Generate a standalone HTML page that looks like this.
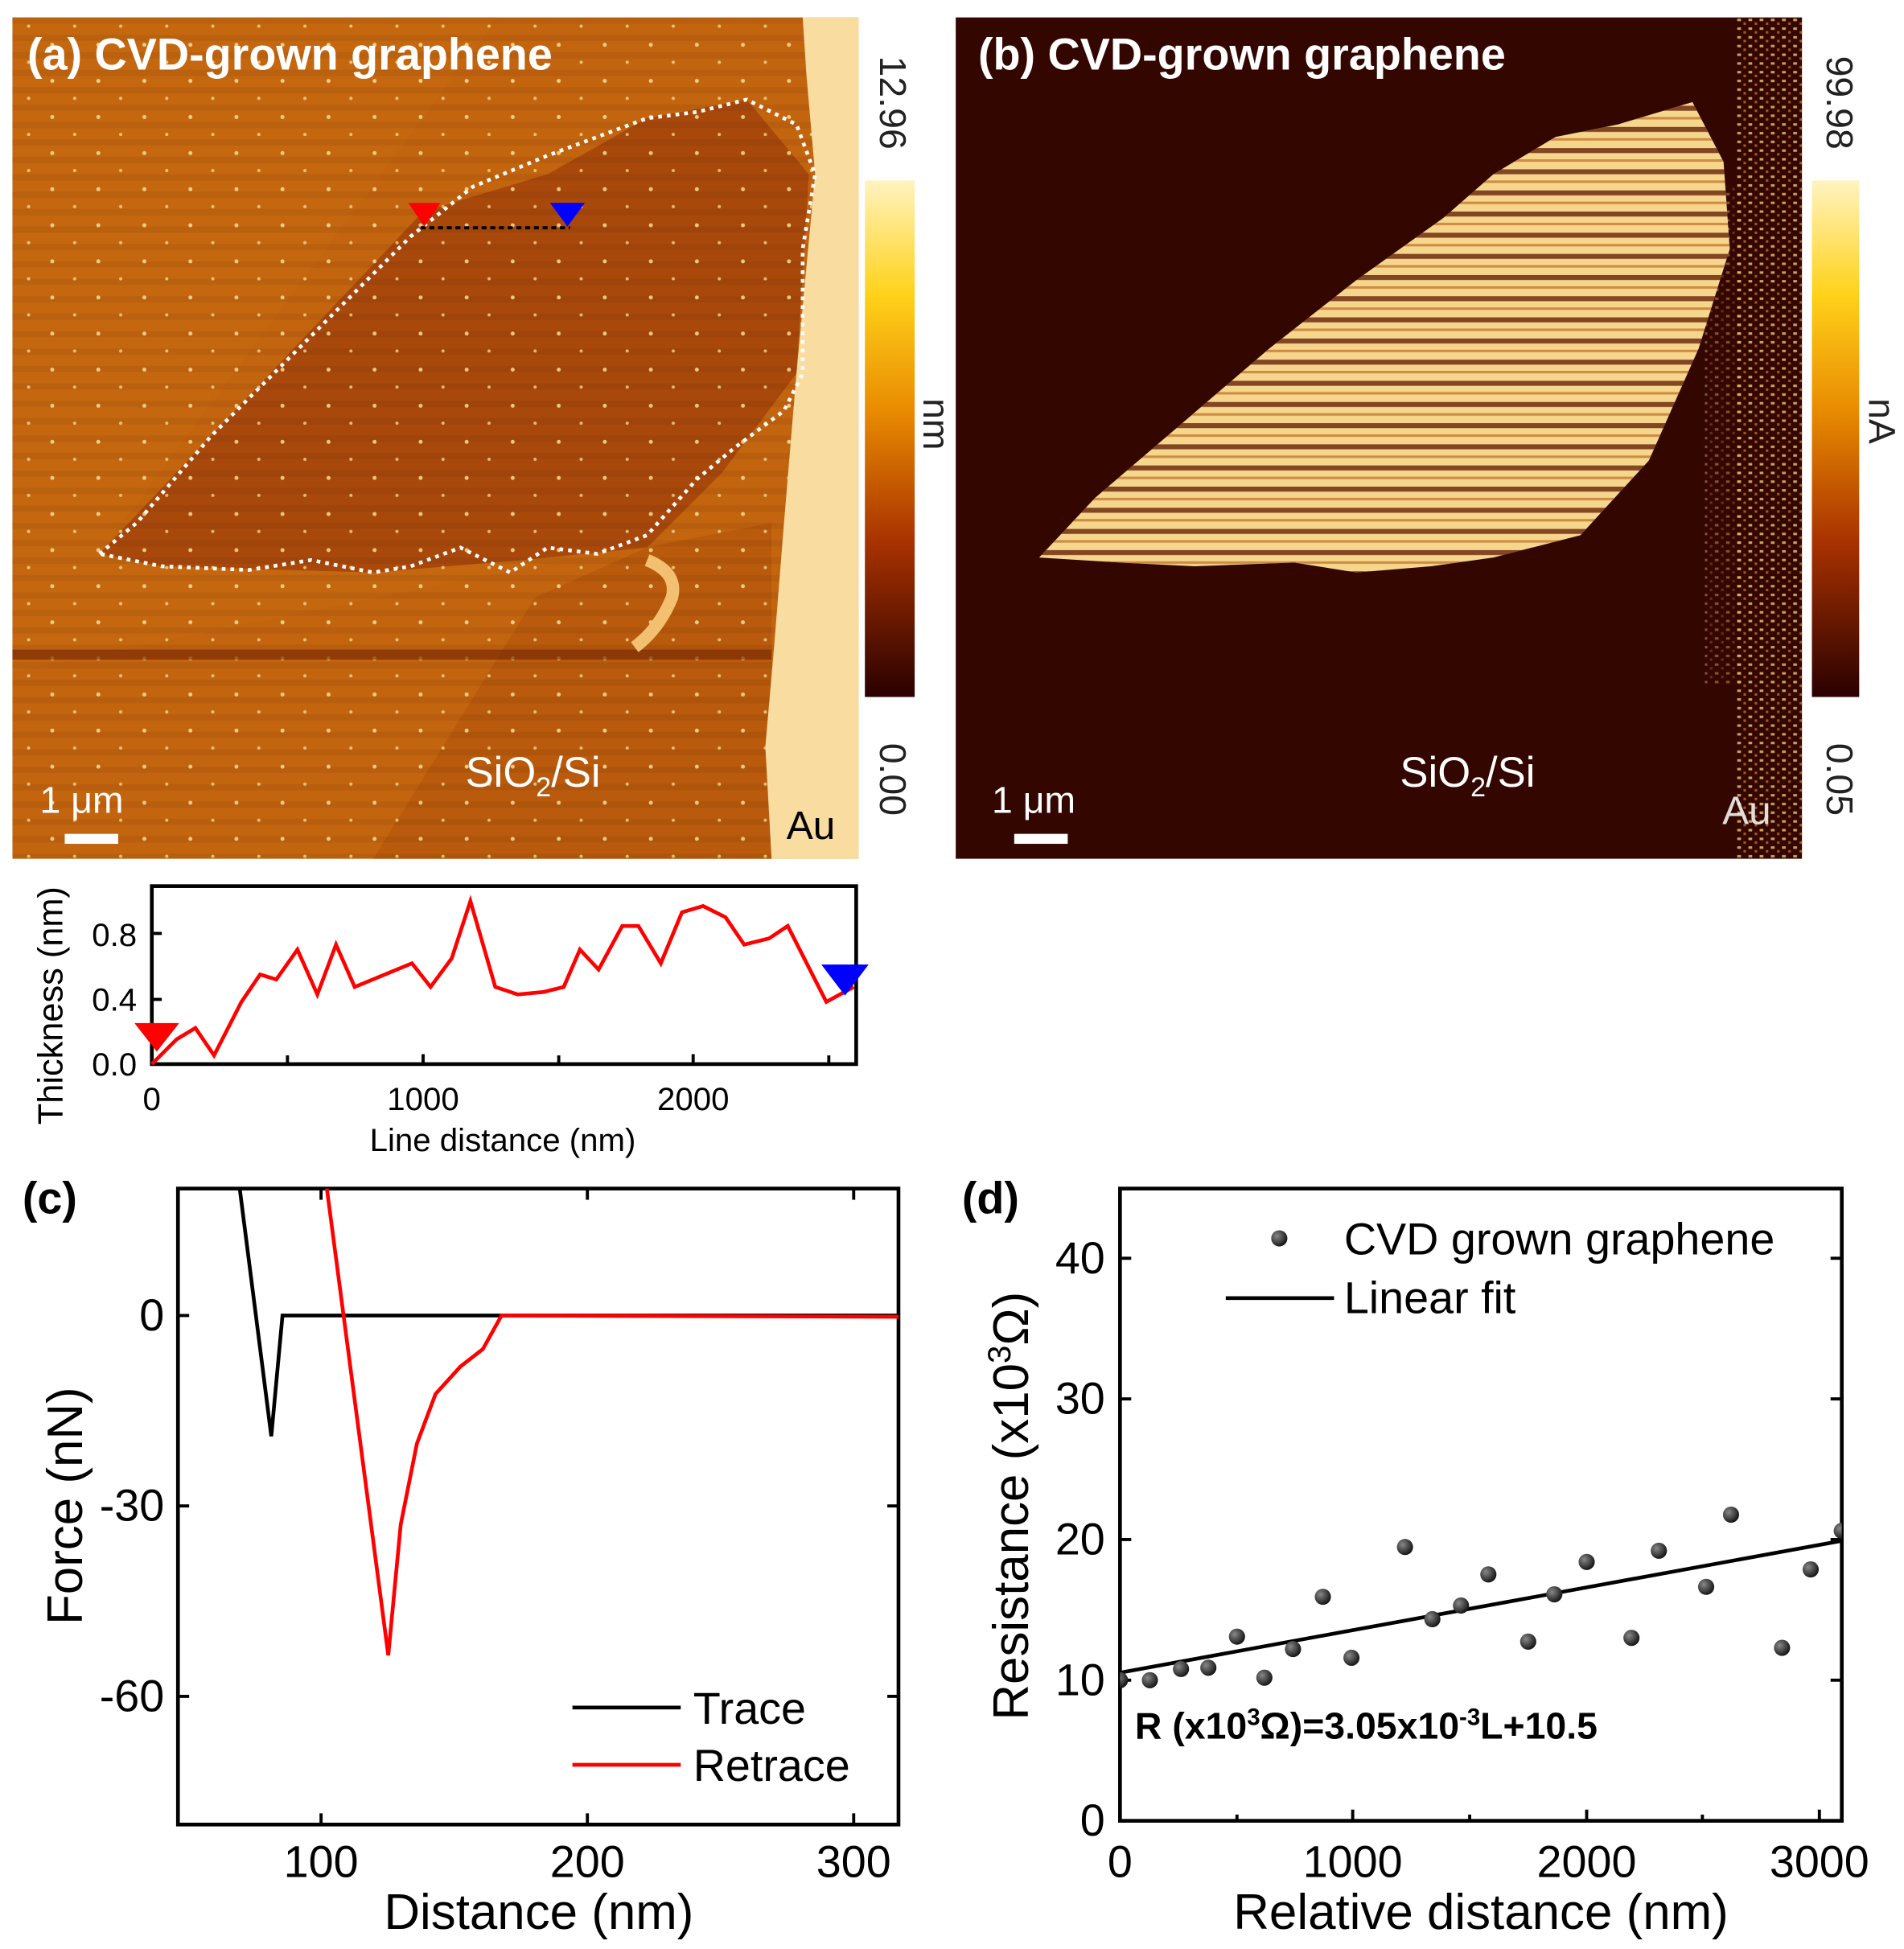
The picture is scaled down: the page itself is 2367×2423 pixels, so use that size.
<!DOCTYPE html>
<html><head><meta charset="utf-8"><style>
html,body{margin:0;padding:0;background:#fff;}
svg{display:block;}
text{font-family:"Liberation Sans",Arial,sans-serif;}
</style></head><body>
<svg width="2367" height="2423" viewBox="0 0 1530 1566" preserveAspectRatio="none" xmlns="http://www.w3.org/2000/svg">
<defs>
<linearGradient id="cb" x1="0" y1="0" x2="0" y2="1">
<stop offset="0" stop-color="#fff3c0"/><stop offset="0.22" stop-color="#ffd21a"/><stop offset="0.45" stop-color="#e88a00"/><stop offset="0.7" stop-color="#a83200"/><stop offset="1" stop-color="#2a0000"/>
</linearGradient>
<pattern id="stripA" width="680" height="14" patternUnits="userSpaceOnUse"><rect width="680" height="5" fill="#000" opacity="0.06"/></pattern>
<pattern id="dots" width="37" height="29" patternUnits="userSpaceOnUse"><circle cx="5" cy="7" r="1.6" fill="#ffe9a0" opacity="0.8"/><circle cx="23" cy="21" r="1.3" fill="#ffe9a0" opacity="0.7"/></pattern>
<pattern id="stripB" width="680" height="17" patternUnits="userSpaceOnUse"><rect y="0" width="680" height="4" fill="#5a1500" opacity="0.75"/><rect y="9" width="680" height="2" fill="#b05a10" opacity="0.6"/></pattern>
<pattern id="noise" width="9" height="7" patternUnits="userSpaceOnUse"><rect x="1" y="1" width="3" height="2" fill="#f2c870"/><rect x="6" y="4" width="2" height="2" fill="#c07020"/></pattern>
<clipPath id="cc"><rect x="143" y="955" width="579" height="511"/></clipPath>
<clipPath id="cd"><rect x="900" y="955" width="580" height="508"/></clipPath>
<radialGradient id="ball" cx="0.35" cy="0.35" r="0.7"><stop offset="0" stop-color="#888"/><stop offset="1" stop-color="#111"/></radialGradient>
</defs>

<!-- Panel a -->
<rect x="10" y="14" width="680" height="676" fill="#c3640f"/>
<polygon points="10,14 400,14 80,445 300,460 520,440 600,420 10,540" fill="#c8690f" opacity="0.5"/>
<polygon points="300,690 430,480 520,440 620,420 620,690" fill="#b95a0c"/>
<polygon points="80,445 340,170 440,140 520,95 600,80 650,140 640,300 580,380 520,440 420,450 300,460 130,455" fill="#a9480b"/>
<rect x="10" y="14" width="680" height="676" fill="url(#stripA)"/>
<rect x="10" y="14" width="680" height="676" fill="url(#dots)"/>
<rect x="10" y="522" width="610" height="8" fill="#7a2a05" opacity="0.7"/>
<polygon points="645,14 690,14 690,690 620,690 615,600 622,520 630,420 640,300 655,140 648,60" fill="#f8dca0"/>
<path d="M520,450 q25,10 20,30 q-10,25 -30,40" stroke="#f2c070" stroke-width="10" fill="none"/>
<polygon points="80,445 110,420 170,350 250,270 330,190 380,150 440,125 520,95 560,90 600,80 640,100 655,140 645,200 645,300 630,330 590,360 560,385 520,430 480,445 440,440 410,460 370,440 330,455 300,460 250,450 200,458 130,455" fill="none" stroke="#fff" stroke-width="3" stroke-dasharray="3 4"/>
<line x1="338" y1="183" x2="458" y2="183" stroke="#000" stroke-width="2.5" stroke-dasharray="4 3"/>
<polygon points="328,163 354,163 341,182" fill="#f00"/>
<polygon points="442,163 470,163 456,182" fill="#00f"/>
<text x="22" y="56" font-size="36" font-weight="bold" fill="#fff">(a) CVD-grown graphene</text>
<text x="374" y="632" font-size="34" fill="#fff">SiO<tspan font-size="22" dy="8">2</tspan><tspan dy="-8">/Si</tspan></text>
<text x="632" y="674" font-size="32" fill="#000">Au</text>
<text x="32" y="653" font-size="30" fill="#fff">1 μm</text>
<rect x="52" y="670" width="43" height="8" fill="#fff"/>
<rect x="695" y="145" width="40" height="415" fill="url(#cb)"/>
<text transform="translate(707,45) rotate(90)" font-size="30" fill="#222">12.96</text>
<text transform="translate(742,320) rotate(90)" font-size="30" fill="#222">nm</text>
<text transform="translate(707,597) rotate(90)" font-size="30" fill="#222">0.00</text>

<!-- Panel b -->
<rect x="768" y="14" width="680" height="676" fill="#330600"/>
<rect x="1395" y="14" width="53" height="676" fill="url(#noise)" opacity="0.8"/>
<rect x="1370" y="150" width="30" height="400" fill="url(#noise)" opacity="0.4"/>
<polygon points="835,448 880,400 950,340 1020,280 1090,225 1160,175 1200,140 1250,110 1300,100 1360,82 1385,130 1390,200 1365,280 1325,370 1270,430 1200,448 1150,455 1090,460 1040,452 960,455 900,452" fill="#f6d68c"/>
<polygon points="835,448 880,400 950,340 1020,280 1090,225 1160,175 1200,140 1250,110 1300,100 1360,82 1385,130 1390,200 1365,280 1325,370 1270,430 1200,448 1150,455 1090,460 1040,452 960,455 900,452" fill="url(#stripB)"/>
<text x="786" y="56" font-size="36" font-weight="bold" fill="#fff">(b) CVD-grown graphene</text>
<text x="1125" y="632" font-size="34" fill="#fff">SiO<tspan font-size="22" dy="8">2</tspan><tspan dy="-8">/Si</tspan></text>
<text x="1384" y="662" font-size="32" fill="#fff" opacity="0.85">Au</text>
<text x="797" y="653" font-size="30" fill="#fff">1 μm</text>
<rect x="815" y="670" width="43" height="8" fill="#fff"/>
<rect x="1456" y="145" width="38" height="415" fill="url(#cb)"/>
<text transform="translate(1468,45) rotate(90)" font-size="30" fill="#222">99.98</text>
<text transform="translate(1502,320) rotate(90)" font-size="30" fill="#222">nA</text>
<text transform="translate(1468,597) rotate(90)" font-size="30" fill="#222">0.05</text>

<!-- Thickness plot -->
<rect x="122" y="712" width="566" height="143" fill="none" stroke="#000" stroke-width="3"/>
<g stroke="#000" stroke-width="2.5">
<line x1="122" y1="750" x2="130" y2="750"/><line x1="122" y1="803" x2="130" y2="803"/>
<line x1="231" y1="855" x2="231" y2="848"/><line x1="340" y1="855" x2="340" y2="847"/><line x1="449" y1="855" x2="449" y2="848"/><line x1="557" y1="855" x2="557" y2="847"/><line x1="666" y1="855" x2="666" y2="848"/>
</g>
<polyline fill="none" stroke="#f00" stroke-width="3" points="122,855 142,835 157,826 172,848 194,805 209,783 222,787 239,763 255,799 270,759 285,793 331,774 346,793 363,770 378,724 398,793 416,799 437,797 453,793 466,763 481,779 500,744 513,744 531,774 548,733 565,728 583,737 598,759 618,754 633,744 664,805 686,793"/>
<polygon points="108,822 144,822 126,845" fill="#f00"/>
<polygon points="660,775 698,775 679,800" fill="#00f"/>
<g font-size="26" fill="#000" text-anchor="end">
<text x="110" y="864">0.0</text><text x="110" y="812">0.4</text><text x="110" y="760">0.8</text>
</g>
<g font-size="26" fill="#000" text-anchor="middle">
<text x="122" y="892">0</text><text x="340" y="892">1000</text><text x="557" y="892">2000</text>
<text x="404" y="925">Line distance (nm)</text>
</g>
<text transform="translate(50,808) rotate(-90)" font-size="28" text-anchor="middle">Thickness (nm)</text>

<!-- Panel c -->
<text x="18" y="975" font-size="36" font-weight="bold">(c)</text>
<rect x="143" y="955" width="579" height="511" fill="none" stroke="#000" stroke-width="3"/>
<g stroke="#000" stroke-width="2.5">
<line x1="143" y1="1057" x2="152" y2="1057"/><line x1="143" y1="1210" x2="152" y2="1210"/><line x1="143" y1="1363" x2="152" y2="1363"/>
<line x1="722" y1="1057" x2="713" y2="1057"/><line x1="722" y1="1210" x2="713" y2="1210"/><line x1="722" y1="1363" x2="713" y2="1363"/>
<line x1="258" y1="1466" x2="258" y2="1457"/><line x1="472" y1="1466" x2="472" y2="1457"/><line x1="686" y1="1466" x2="686" y2="1457"/>
<line x1="258" y1="955" x2="258" y2="964"/><line x1="472" y1="955" x2="472" y2="964"/><line x1="686" y1="955" x2="686" y2="964"/>
</g>
<g clip-path="url(#cc)" fill="none" stroke-width="3">
<polyline stroke="#000" points="192,950 218,1154 227,1057 722,1057"/>
<polyline stroke="#f00" points="262,950 312,1330 322,1225 335,1160 350,1120 370,1098 388,1084 403,1057 722,1058"/>
</g>
<g font-size="36" text-anchor="end"><text x="132" y="1069">0</text><text x="132" y="1222">-30</text><text x="132" y="1375">-60</text></g>
<g font-size="36" text-anchor="middle"><text x="258" y="1508">100</text><text x="472" y="1508">200</text><text x="686" y="1508">300</text>
<text x="433" y="1550" font-size="40">Distance (nm)</text></g>
<text transform="translate(66,1210) rotate(-90)" font-size="40" text-anchor="middle">Force (nN)</text>
<line x1="460" y1="1372" x2="547" y2="1372" stroke="#000" stroke-width="3"/>
<line x1="460" y1="1418" x2="547" y2="1418" stroke="#f00" stroke-width="3"/>
<text x="557" y="1385" font-size="36">Trace</text>
<text x="557" y="1431" font-size="36">Retrace</text>

<!-- Panel d -->
<text x="773" y="975" font-size="36" font-weight="bold">(d)</text>
<rect x="900" y="955" width="580" height="508" fill="none" stroke="#000" stroke-width="3"/>
<g stroke="#000" stroke-width="2.5">
<line x1="900" y1="1350" x2="909" y2="1350"/><line x1="900" y1="1237" x2="909" y2="1237"/><line x1="900" y1="1124" x2="909" y2="1124"/><line x1="900" y1="1011" x2="909" y2="1011"/>
<line x1="1480" y1="1350" x2="1471" y2="1350"/><line x1="1480" y1="1237" x2="1471" y2="1237"/><line x1="1480" y1="1124" x2="1471" y2="1124"/><line x1="1480" y1="1011" x2="1471" y2="1011"/>
<line x1="1087" y1="1463" x2="1087" y2="1454"/><line x1="1275" y1="1463" x2="1275" y2="1454"/><line x1="1462" y1="1463" x2="1462" y2="1454"/>
<line x1="994" y1="1463" x2="994" y2="1458"/><line x1="1181" y1="1463" x2="1181" y2="1458"/><line x1="1368" y1="1463" x2="1368" y2="1458"/>
</g>
<g clip-path="url(#cd)">
<line x1="900" y1="1344" x2="1480" y2="1238" stroke="#000" stroke-width="3"/>
<g fill="url(#ball)">
<circle cx="900" cy="1350" r="6.5"/><circle cx="924" cy="1350" r="6.5"/><circle cx="949" cy="1341" r="6.5"/><circle cx="971" cy="1340" r="6.5"/><circle cx="994" cy="1315" r="6.5"/><circle cx="1016" cy="1348" r="6.5"/><circle cx="1039" cy="1325" r="6.5"/><circle cx="1063" cy="1283" r="6.5"/><circle cx="1086" cy="1332" r="6.5"/><circle cx="1129" cy="1243" r="6.5"/><circle cx="1151" cy="1301" r="6.5"/><circle cx="1174" cy="1290" r="6.5"/><circle cx="1196" cy="1265" r="6.5"/><circle cx="1228" cy="1319" r="6.5"/><circle cx="1249" cy="1281" r="6.5"/><circle cx="1275" cy="1255" r="6.5"/><circle cx="1311" cy="1316" r="6.5"/><circle cx="1333" cy="1246" r="6.5"/><circle cx="1371" cy="1275" r="6.5"/><circle cx="1391" cy="1217" r="6.5"/><circle cx="1432" cy="1324" r="6.5"/><circle cx="1455" cy="1261" r="6.5"/><circle cx="1480" cy="1230" r="6.5"/>
</g></g>
<g font-size="36" text-anchor="end"><text x="888" y="1475">0</text><text x="888" y="1362">10</text><text x="888" y="1249">20</text><text x="888" y="1136">30</text><text x="888" y="1023">40</text></g>
<g font-size="36" text-anchor="middle"><text x="900" y="1508">0</text><text x="1087" y="1508">1000</text><text x="1275" y="1508">2000</text><text x="1462" y="1508">3000</text>
<text x="1190" y="1550" font-size="40">Relative distance (nm)</text></g>
<text transform="translate(826,1210) rotate(-90)" font-size="40" text-anchor="middle">Resistance (x10<tspan font-size="26" dy="-14">3</tspan><tspan dy="14">Ω)</tspan></text>
<circle cx="1028" cy="995" r="6.5" fill="url(#ball)"/>
<text x="1080" y="1008" font-size="36">CVD grown graphene</text>
<line x1="985" y1="1043" x2="1072" y2="1043" stroke="#000" stroke-width="3"/>
<text x="1080" y="1055" font-size="36">Linear fit</text>
<text x="912" y="1397" font-size="30" font-weight="bold">R (x10<tspan font-size="19" dy="-11">3</tspan><tspan dy="11">Ω)=3.05x10</tspan><tspan font-size="19" dy="-11">-3</tspan><tspan dy="11">L+10.5</tspan></text>
</svg>
</body></html>
